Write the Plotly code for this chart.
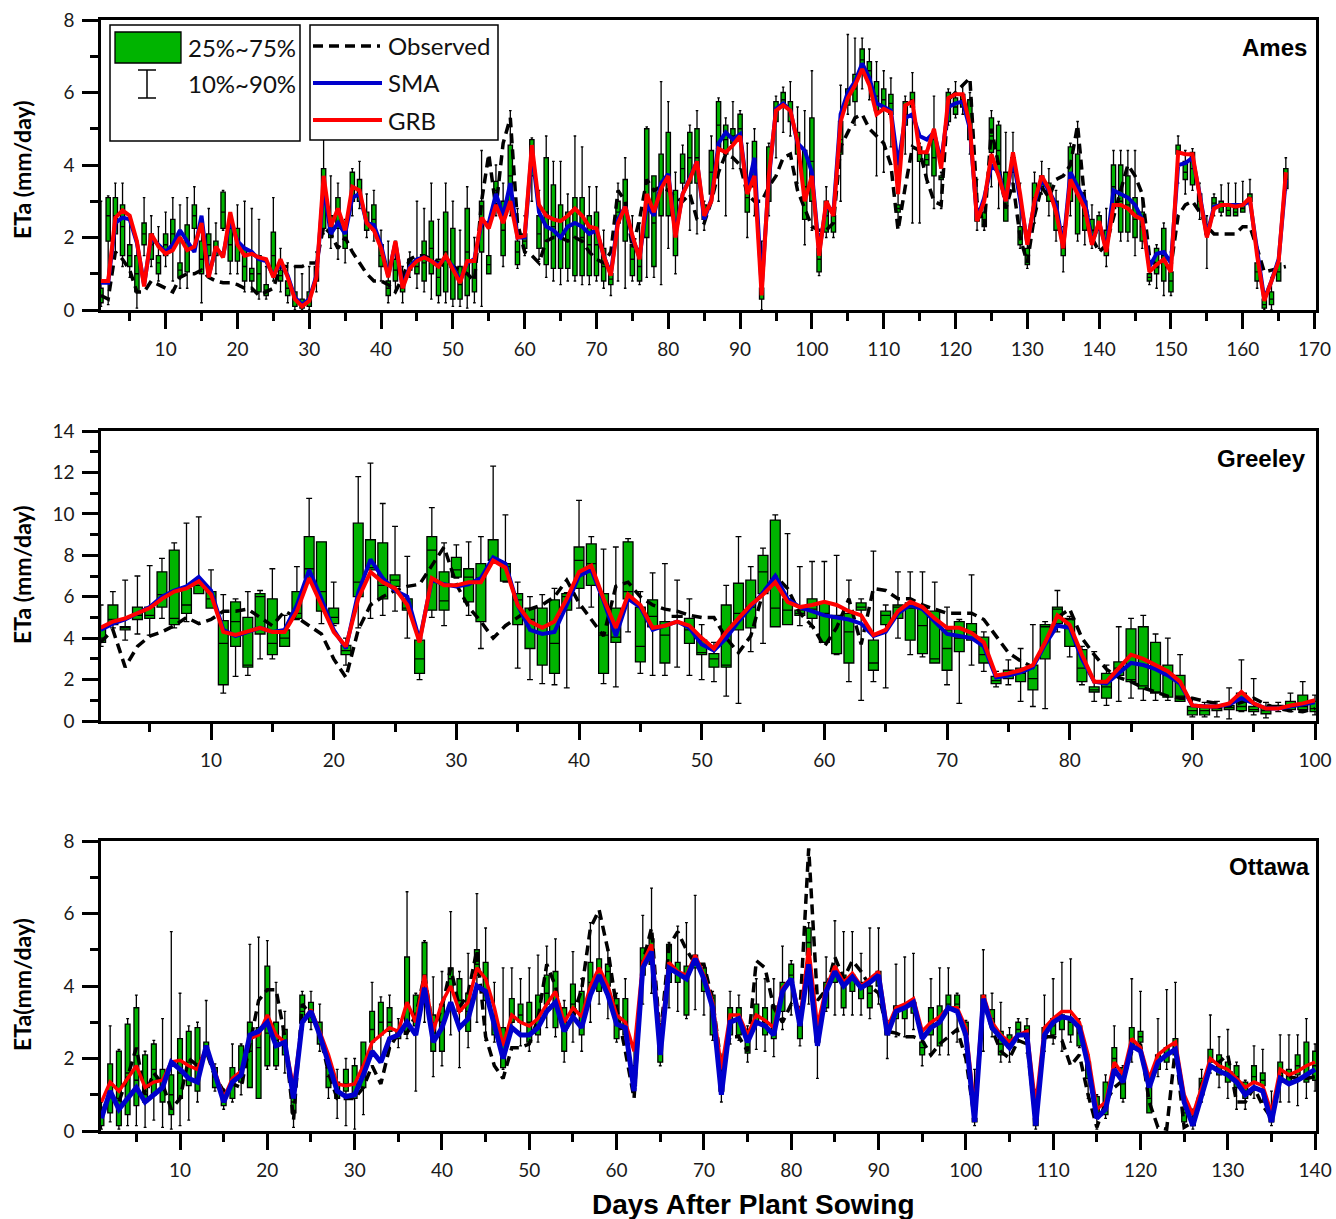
import plotly.graph_objects as go

W, H = 1336, 1219

# ======================= AMES (days 1..166) =======================
ames_days = list(range(1, 167))
ames_grb = [0.8, 0.8, 2.55, 2.75, 2.6, 1.9, 0.65, 2.1, 1.75, 1.55,
            1.65, 2.0, 1.65, 1.75, 2.4, 0.9, 1.75, 1.45, 2.7, 1.8,
            1.5, 1.55, 1.45, 1.4, 0.9, 1.4, 0.9, 0.3, 0.1, 0.25,
            0.9, 3.7, 2.3, 2.8, 2.2, 3.4, 3.3, 2.4, 2.2, 1.7,
            0.9, 1.9, 0.6, 1.15, 1.35, 1.45, 1.35, 1.2, 1.5, 1.15,
            0.75, 1.35, 1.35, 2.55, 2.25, 2.9, 2.4, 3.0, 2.0, 2.05,
            4.55, 2.9, 2.6, 2.5, 2.45, 2.6, 2.8, 2.6, 2.3, 2.25,
            1.5, 0.95, 2.4, 2.85, 2.05, 1.4, 3.2, 2.7, 3.35, 3.7,
            2.0, 3.2, 3.6, 4.1, 2.6, 3.0, 4.45, 4.35, 4.55, 4.8,
            3.2, 3.7, 0.4, 3.7, 5.5, 5.65, 5.5, 4.65, 3.0, 3.7,
            1.5, 3.0, 2.6, 5.2, 5.85, 6.2, 6.65, 6.2, 5.4, 5.55,
            5.45, 3.2, 5.65, 5.75, 4.35, 4.35, 5.0, 3.9, 5.85, 5.95,
            5.95, 5.1, 2.45, 3.0, 4.3, 3.7, 3.0, 4.35, 3.2, 1.8,
            3.0, 3.7, 3.35, 2.7, 1.7, 3.6, 3.2, 2.8, 1.8, 2.45,
            1.6, 2.9, 2.9, 2.8, 2.6, 2.5, 1.05, 1.25, 1.4, 1.05,
            4.35, 4.3, 4.3, 3.2, 2.0, 2.8, 2.9, 2.9, 2.85, 2.9,
            3.1, 1.5, 0.25, 0.8, 1.35, 3.8]
ames_sma = [0.75, 0.75, 2.4, 2.55, 2.5, 1.85, 0.7, 2.0, 1.8, 1.6,
            1.8, 2.2, 1.9, 1.6, 2.6, 0.95, 1.7, 1.5, 2.5, 1.9,
            1.7, 1.6, 1.4, 1.35, 0.95, 1.3, 0.95, 0.35, 0.15, 0.3,
            0.95, 3.4, 2.1, 2.4, 2.1, 3.1, 3.2, 2.4, 2.35, 1.8,
            0.95, 1.85, 0.65, 1.2, 1.4, 1.45, 1.35, 1.25, 1.45, 1.2,
            0.8, 1.3, 1.4, 2.4, 2.4, 3.2, 2.6, 3.5, 2.0, 2.0,
            4.4, 2.7, 2.3, 2.2, 2.0, 2.3, 2.4, 2.3, 2.1, 2.2,
            1.5, 1.0, 2.5, 2.85, 2.0, 1.45, 2.9, 2.6, 3.5, 3.75,
            2.1, 3.2, 3.65, 4.1, 2.5, 3.05, 4.6, 4.9, 4.7, 4.85,
            3.3, 4.2, 0.6, 3.6, 5.55, 5.7, 5.5, 4.6, 4.4, 3.8,
            1.6, 2.9, 2.7, 5.4, 6.0, 6.3, 6.8, 6.4, 5.7, 5.6,
            5.5, 4.0, 5.3, 5.4, 4.8, 4.7, 4.9, 4.1, 5.6, 5.7,
            5.75, 5.0, 2.5, 3.1, 4.0, 3.8, 3.0, 4.2, 3.1, 1.85,
            2.95, 3.6, 3.3, 2.9, 1.75, 3.8, 3.4, 3.0, 1.85, 2.4,
            1.7, 3.3, 3.2, 3.1, 2.9, 2.5, 1.2, 1.55, 1.6, 1.3,
            4.0, 4.05, 4.2, 3.2, 2.05, 2.85, 2.9, 2.9, 2.9, 2.9,
            3.0, 1.55, 0.3, 0.8, 1.4, 3.6]
ames_obs = [0.4, 0.3, 1.6, 1.4, 1.1, 0.5, 0.5, 0.8, 0.7, 0.6,
            0.5, 0.9, 1.0, 1.0, 1.1, 0.9, 0.8, 0.75, 0.75, 0.7,
            0.6, 0.6, 0.4, 0.5, 0.6, 1.2, 1.2, 1.2, 1.2, 1.3,
            1.3, 2.3, 2.1, 1.7, 2.0, 1.6, 1.3, 1.0, 0.8, 0.8,
            0.7, 0.5, 0.9, 1.4, 1.5, 1.5, 1.4, 1.3, 1.2, 1.2,
            1.1, 1.0, 0.8, 3.0, 4.3, 2.8, 4.6, 5.3, 2.4, 1.6,
            1.5, 1.3, 1.9, 2.0, 2.0, 1.9, 2.0, 1.9, 1.6, 1.4,
            1.3, 1.6, 3.3, 3.0, 1.7, 2.5, 3.6, 3.3, 3.4, 3.3,
            3.1, 3.0, 3.2, 2.5, 2.4, 3.0, 3.8, 4.3, 4.2, 4.0,
            3.2, 3.0, 3.0, 3.4, 3.7, 4.2, 4.3, 3.3, 2.8, 2.3,
            2.2, 2.2, 2.4, 4.5, 4.9, 5.3, 5.4, 5.0, 4.8, 4.6,
            4.0, 2.2, 3.4, 4.5, 4.4, 3.6, 3.0, 2.9, 5.8, 6.0,
            6.2, 6.4, 3.0, 2.3, 5.0, 4.0, 2.8, 3.5, 2.0, 1.3,
            2.6, 3.4, 3.1, 3.6, 3.7, 4.0, 5.1, 3.0, 2.0, 1.6,
            1.8, 2.6, 3.3, 4.0, 3.7, 3.2, 1.5, 1.2, 1.2, 1.2,
            2.6, 2.9, 3.0, 2.7, 2.3, 2.1, 2.1, 2.1, 2.1, 2.3,
            2.3, 1.7, 1.05, 1.1, 1.15, 1.2]
ames_q1 = [0.2, 1.9, 2.1, 1.5, 1.2, 0.5, 1.8, 1.4, 1.0, 1.5,
           1.7, 0.9, 1.05, 2.25, 1.0, 1.5, 1.5, 2.25, 1.35, 1.35,
           0.8, 0.8, 0.5, 0.4, 1.0, 0.8, 0.4, 0.1, 0.05, 0.1,
           0.8, 2.25, 2.0, 2.25, 1.7, 3.0, 3.0, 2.2, 2.2, 1.2,
           0.4, 0.8, 0.5, 1.1, 1.0, 0.8, 1.0, 0.4, 0.5, 0.3,
           0.3, 0.4, 0.5, 1.6, 1.0, 3.0, 1.5, 2.9, 1.25, 1.7,
           3.7, 1.7, 1.25, 1.15, 1.15, 1.15, 0.95, 0.95, 0.95, 0.95,
           0.8, 0.7, 2.4, 1.9, 0.95, 0.8, 2.0, 1.2, 2.6, 2.6,
           1.5, 3.5, 3.5, 3.5, 2.5, 3.2, 4.45, 4.3, 4.6, 4.65,
           2.7, 3.4, 0.3, 3.0, 5.2, 5.65, 5.2, 4.3, 2.5, 3.0,
           1.05, 2.15, 2.15, 4.3, 5.65, 5.75, 6.6, 6.3, 5.5, 5.55,
           5.4, 2.7, 5.1, 5.6, 4.1, 4.0, 3.7, 3.6, 5.2, 5.4,
           5.6, 4.7, 2.45, 2.3, 4.35, 3.8, 2.45, 3.8, 1.8, 1.25,
           2.8, 3.4, 3.0, 2.2, 1.5, 3.0, 2.1, 2.2, 1.9, 2.2,
           1.5, 2.8, 2.15, 2.15, 2.0, 1.9, 0.8, 1.0, 0.8, 0.5,
           4.3, 3.6, 3.45, 2.8, 2.1, 2.8, 2.7, 2.6, 2.6, 2.7,
           3.0, 0.8, 0.05, 0.15, 0.8, 3.35]
ames_med = [0.4, 2.6, 2.6, 2.3, 1.5, 1.0, 2.1, 1.8, 1.3, 1.8,
            2.1, 1.1, 1.7, 2.6, 1.4, 1.8, 1.7, 2.7, 1.8, 1.8,
            1.2, 1.0, 1.0, 0.55, 1.5, 0.95, 0.6, 0.3, 0.15, 0.3,
            1.0, 3.0, 2.3, 2.7, 2.0, 3.4, 3.3, 2.45, 2.5, 1.5,
            0.6, 1.1, 0.6, 1.25, 1.2, 1.3, 1.7, 0.9, 1.6, 1.2,
            0.7, 1.6, 0.9, 2.3, 1.25, 3.3, 2.2, 3.7, 1.6, 1.9,
            4.2, 2.1, 2.7, 2.3, 2.0, 1.9, 2.0, 2.0, 1.8, 1.8,
            1.2, 0.85, 2.7, 2.7, 1.4, 1.2, 3.5, 2.4, 3.4, 3.7,
            2.4, 3.9, 4.2, 4.2, 2.7, 3.8, 5.1, 4.7, 4.8, 5.0,
            3.1, 4.0, 0.45, 3.7, 5.5, 5.8, 5.5, 4.6, 3.4, 4.1,
            1.4, 2.6, 2.4, 4.7, 5.9, 6.1, 6.9, 6.6, 5.9, 5.8,
            5.7, 2.8, 5.4, 5.8, 4.3, 4.15, 4.2, 3.65, 5.6, 5.6,
            5.8, 5.2, 2.6, 2.5, 4.8, 4.4, 3.1, 4.0, 2.0, 1.5,
            3.1, 3.55, 3.2, 2.6, 1.7, 3.7, 3.2, 2.6, 2.2, 2.4,
            1.8, 3.4, 3.0, 2.9, 2.5, 2.3, 0.9, 1.3, 1.5, 0.8,
            4.4, 3.8, 3.9, 3.0, 2.2, 2.95, 2.85, 2.75, 2.7, 2.8,
            3.1, 1.05, 0.15, 0.3, 1.05, 3.6]
ames_q3 = [0.6, 3.1, 3.1, 2.9, 1.8, 1.5, 2.4, 2.1, 1.5, 2.1,
           2.5, 1.3, 2.35, 2.9, 1.9, 2.1, 1.9, 3.25, 2.25, 2.25,
           1.7, 1.15, 1.5, 0.7, 2.15, 1.1, 0.8, 0.5, 0.3, 0.5,
           1.2, 3.9, 2.6, 3.1, 2.2, 3.8, 3.6, 2.7, 2.9, 1.8,
           0.8, 1.4, 0.7, 1.4, 1.4, 1.9, 2.45, 1.4, 2.7, 2.25,
           1.2, 2.8, 1.4, 3.0, 1.5, 3.55, 3.0, 4.55, 1.9, 2.1,
           4.7, 2.6, 4.2, 3.45, 2.9, 2.7, 3.1, 3.1, 2.6, 2.7,
           1.7, 1.0, 3.0, 3.6, 1.8, 1.7, 5.0, 3.7, 4.3, 4.9,
           3.3, 4.3, 4.9, 5.0, 2.9, 4.4, 5.75, 5.1, 5.0, 5.4,
           3.5, 4.65, 0.6, 4.5, 5.75, 6.0, 5.75, 4.9, 4.4, 5.3,
           1.7, 3.0, 2.6, 5.2, 6.1, 6.5, 7.2, 6.85, 6.3, 6.1,
           5.95, 2.9, 5.75, 6.0, 4.5, 4.3, 4.7, 3.7, 6.0, 5.85,
           5.95, 5.8, 2.8, 2.7, 5.3, 5.1, 3.8, 4.2, 2.3, 1.7,
           3.5, 3.7, 3.5, 3.0, 1.9, 4.5, 4.3, 3.0, 2.5, 2.6,
           2.2, 4.0, 4.0, 3.7, 3.1, 2.7, 1.0, 1.7, 2.25, 1.05,
           4.55, 4.1, 4.35, 3.2, 2.3, 3.1, 3.0, 2.9, 2.8, 2.85,
           3.2, 1.3, 0.3, 0.5, 1.3, 3.9]
ames_lo = [0.1, 0.15, 1.6, 1.2, 0.9, 0.05, 1.5, 1.2, 0.8, 1.2,
           0.8, 0.6, 0.6, 1.7, 0.2, 1.2, 1.0, 2.2, 1.0, 1.0,
           0.5, 0.5, 0.3, 0.3, 0.8, 0.5, 0.2, 0.0, 0.0, 0.0,
           0.5, 2.1, 1.7, 1.4, 1.3, 2.6, 2.8, 2.0, 1.9, 0.8,
           0.2, 0.5, 0.2, 0.9, 0.6, 0.5, 0.3, 0.2, 0.2, 0.1,
           0.1, 0.05, 0.2, 0.1, 1.0, 2.6, 1.2, 2.6, 1.15, 1.5,
           3.0, 1.4, 0.9, 0.8, 0.7, 0.8, 0.8, 0.7, 0.7, 0.8,
           0.6, 0.4, 0.8, 0.6, 0.8, 0.7, 0.9, 0.9, 0.7, 1.7,
           1.0, 3.0, 2.2, 2.1, 2.2, 3.0, 3.0, 2.6, 3.9, 3.9,
           2.0, 2.6, 0.0, 2.6, 4.2, 4.9, 4.8, 3.5, 1.8, 2.2,
           0.95, 2.0, 2.0, 3.0, 5.4, 5.1, 6.1, 5.8, 3.7, 3.8,
           4.5, 2.4, 4.3, 2.4, 2.4, 3.5, 2.8, 2.8, 5.1, 5.3,
           5.4, 4.3, 2.2, 2.2, 3.4, 2.8, 2.45, 3.5, 1.7, 1.15,
           2.4, 3.2, 2.6, 1.9, 1.05, 2.6, 1.9, 1.8, 1.7, 1.7,
           1.2, 2.6, 1.9, 1.9, 1.5, 1.7, 0.7, 0.6, 0.4, 0.4,
           3.5, 3.2, 3.3, 2.5, 1.15, 2.6, 2.6, 2.6, 2.6, 2.7,
           2.9, 0.6, 0.0, 0.0, 0.8, 3.3]
ames_hi = [3.0, 3.15, 3.5, 3.5, 2.6, 1.9, 3.1, 2.6, 2.3, 2.7,
           3.1, 2.9, 3.1, 3.4, 2.4, 2.8, 2.4, 3.3, 2.6, 2.9,
           3.0, 2.8, 2.5, 1.2, 3.1, 1.7, 1.3, 1.2, 1.0, 1.2,
           1.6, 5.2, 3.7, 3.5, 2.5, 3.9, 4.1, 3.2, 3.3, 2.2,
           1.9, 1.9, 1.2, 1.6, 3.0, 2.8, 3.5, 2.5, 3.5, 3.0,
           2.2, 3.4, 2.0, 4.4, 2.3, 4.0, 3.5, 5.5, 2.8, 2.6,
           4.75, 3.3, 4.8, 4.1, 4.1, 3.2, 4.8, 4.5, 3.4, 3.4,
           2.2, 1.15, 3.5, 4.2, 2.6, 2.4, 5.05, 3.7, 6.3, 5.75,
           3.8, 4.55, 5.1, 5.5, 3.0, 4.8, 5.85, 5.3, 5.75, 5.5,
           4.6, 5.0, 1.9, 4.6, 5.9, 6.15, 6.3, 5.6, 5.5, 6.6,
           2.1, 3.4, 2.8, 6.2, 7.6, 7.5, 7.5, 7.2, 6.85, 6.6,
           6.4, 4.2, 5.9, 6.55, 4.6, 4.4, 5.9, 3.8, 6.1, 6.3,
           6.2, 6.0, 3.6, 3.0, 5.5, 5.2, 4.9, 4.9, 3.5, 1.9,
           3.8, 4.1, 3.9, 3.3, 2.3, 4.6, 5.2, 3.3, 2.9, 2.7,
           2.8, 4.4, 4.4, 4.4, 4.4, 3.1, 1.15, 1.8, 2.4, 1.6,
           4.8, 4.4, 4.45, 3.5, 2.6, 3.2, 3.45, 3.5, 3.5, 3.55,
           3.6, 1.5, 0.5, 0.9, 1.5, 4.2]

# ======================= GREELEY (days 1..100) =======================
gre_days = list(range(1, 101))
gre_grb = [4.5, 4.8, 4.95, 5.2, 5.45, 5.9, 6.25, 6.4, 6.75, 6.1,
           4.3, 4.15, 4.3, 4.5, 4.3, 4.3, 5.3, 6.9, 5.6, 4.3,
           3.6, 5.9, 7.2, 6.7, 6.4, 5.6, 3.8, 6.9, 6.55, 6.55,
           6.7, 6.7, 7.75, 7.4, 5.6, 4.8, 4.5, 4.8, 5.9, 7.2,
           7.5, 5.9, 4.5, 6.1, 5.6, 4.5, 4.6, 4.8, 4.6, 4.0,
           3.5, 4.3, 4.95, 5.6, 6.1, 6.7, 5.75, 5.5, 5.6, 5.75,
           5.6, 5.3, 5.1, 4.15, 4.4, 5.3, 5.75, 5.5, 4.95, 4.5,
           4.5, 4.25, 3.8, 2.2, 2.3, 2.45, 2.7, 3.8, 5.1, 4.65,
           3.2, 1.9, 1.9, 2.55, 3.2, 3.0, 2.7, 2.4, 1.9, 0.75,
           0.7, 0.7, 0.85, 1.4, 0.85, 0.6, 0.6, 0.75, 0.85, 1.0]
gre_sma = [4.4, 4.7, 4.9, 5.2, 5.5, 6.0, 6.3, 6.5, 6.95, 6.3,
           4.4, 4.1, 4.3, 4.5, 4.3, 4.4, 5.6, 7.3, 5.9, 4.4,
           3.5, 6.2, 7.8, 6.9, 6.3, 6.0, 3.9, 6.8, 6.6, 6.5,
           6.6, 6.9, 7.9, 7.6, 5.6, 4.4, 4.2, 4.3, 5.6, 7.0,
           7.3, 5.8, 4.1, 5.9, 5.5, 4.4, 4.6, 4.8, 4.5, 3.7,
           3.4, 4.0, 4.8, 5.5, 6.2, 7.0, 5.9, 5.5, 5.3, 5.1,
           5.0, 4.9, 4.7, 4.1, 4.3, 5.2, 5.6, 5.4, 4.8, 4.2,
           4.1, 4.0, 3.6, 2.1, 2.2, 2.35, 2.6, 3.7, 4.6, 4.5,
           3.0, 1.9, 1.8, 2.3, 2.8, 2.7, 2.5, 2.2, 1.8, 0.75,
           0.7, 0.7, 0.8, 1.1, 0.85, 0.6, 0.6, 0.7, 0.8, 0.9]
gre_obs = [3.8, 4.4, 2.6, 3.6, 4.1, 4.3, 4.6, 5.0, 4.7, 4.9,
           5.3, 5.3, 5.4, 5.0, 4.6, 5.3, 5.0, 4.6, 4.2, 3.0,
           2.1, 4.4, 5.6, 6.0, 6.3, 6.5, 6.6, 7.5, 8.4, 6.6,
           5.5, 4.8, 4.0, 4.6, 5.0, 5.4, 5.6, 6.0, 6.8, 5.7,
           4.9, 4.1, 6.5, 6.7, 6.0, 5.6, 5.4, 5.3, 5.1, 5.0,
           5.0, 4.0, 3.3, 4.1, 6.2, 7.0, 6.4, 5.2, 4.6, 3.6,
           4.5, 5.9, 3.7, 6.4, 6.3, 5.9, 5.9, 5.6, 5.4, 5.2,
           5.2, 5.2, 4.9, 4.1, 3.3, 2.9, 2.6, 3.8, 5.0, 5.4,
           4.0, 3.2, 2.5, 2.1, 1.9, 1.6, 1.4, 1.2, 1.1, 1.1,
           0.95, 0.85, 0.7, 0.9, 1.1, 0.8, 0.6, 0.5, 0.45, 0.6]
gre_q1 = [3.8, 4.65, 4.4, 4.9, 4.95, 5.5, 4.65, 5.2, 6.15, 5.45,
          1.75, 3.6, 2.6, 4.2, 3.2, 3.6, 4.95, 6.9, 5.3, 4.7,
          3.2, 6.0, 7.3, 5.9, 6.5, 5.35, 2.3, 5.35, 5.35, 6.95,
          5.75, 4.8, 7.75, 6.75, 4.65, 3.5, 2.7, 2.3, 5.35, 6.4,
          6.55, 2.3, 3.8, 5.9, 2.85, 4.55, 2.8, 5.0, 3.75, 3.2,
          2.6, 2.6, 4.4, 4.5, 6.15, 4.55, 4.65, 5.1, 4.95, 3.8,
          3.25, 2.8, 5.35, 2.45, 4.65, 4.95, 3.9, 3.25, 2.8, 2.45,
          3.35, 3.9, 2.8, 1.8, 2.05, 1.9, 1.5, 3.0, 4.7, 3.6,
          1.9, 1.4, 1.1, 2.2, 1.9, 1.55, 1.35, 1.15, 0.95, 0.3,
          0.3, 0.5, 0.55, 0.5, 0.45, 0.35, 0.6, 0.55, 0.55, 0.45]
gre_med = [4.0, 4.9, 4.5, 5.1, 5.1, 6.1, 4.95, 5.6, 6.55, 5.9,
           3.75, 4.8, 2.7, 6.0, 3.75, 4.0, 5.2, 7.35, 6.25, 5.0,
           3.4, 6.7, 7.4, 6.55, 6.8, 5.45, 3.0, 8.25, 5.8, 7.3,
           6.95, 6.9, 7.8, 7.45, 5.85, 4.9, 4.25, 3.75, 6.0, 7.75,
           7.6, 4.15, 4.05, 6.25, 3.6, 5.05, 4.15, 5.05, 4.4, 3.3,
           3.0, 2.7, 5.2, 5.5, 7.2, 5.45, 5.35, 5.2, 5.4, 5.2,
           4.95, 4.3, 5.5, 2.8, 5.1, 5.5, 5.45, 4.6, 3.0, 3.5,
           4.0, 4.3, 3.2, 1.95, 2.25, 2.3, 2.05, 4.55, 5.4, 4.9,
           2.55, 1.5, 1.65, 2.55, 2.0, 1.7, 1.4, 2.2, 1.2, 0.5,
           0.5, 0.6, 0.65, 0.7, 0.55, 0.5, 0.65, 0.7, 0.7, 0.6]
gre_q3 = [4.5, 5.6, 4.55, 5.5, 5.5, 7.2, 8.25, 6.4, 6.7, 6.25,
          4.85, 5.75, 5.0, 6.15, 5.9, 4.4, 6.25, 8.9, 8.65, 5.45,
          3.65, 9.55, 8.75, 8.6, 7.05, 5.9, 3.9, 8.9, 7.2, 7.9,
          7.35, 7.6, 8.75, 7.6, 6.15, 5.45, 5.45, 5.85, 6.15, 8.4,
          8.55, 6.15, 5.45, 8.65, 5.5, 5.85, 4.8, 5.1, 4.95, 3.9,
          3.25, 5.6, 6.65, 6.8, 8.0, 9.7, 5.9, 5.35, 5.9, 5.7,
          5.1, 5.2, 5.7, 3.9, 5.3, 5.6, 5.7, 5.5, 5.3, 4.4,
          4.8, 4.7, 4.05, 2.15, 2.45, 2.55, 2.7, 4.65, 5.5, 4.95,
          3.45, 1.65, 2.3, 2.85, 4.45, 4.55, 3.8, 2.7, 2.2, 0.7,
          0.75, 0.7, 0.75, 1.35, 0.7, 0.7, 0.75, 0.95, 1.25, 0.95]
gre_lo = [3.6, 4.5, 3.9, 4.2, 4.15, 4.95, 4.5, 4.8, 6.15, 5.45,
          1.35, 2.15, 2.2, 3.0, 3.0, 3.6, 4.9, 6.9, 4.7, 4.6,
          2.7, 4.5, 4.95, 5.1, 5.3, 4.0, 2.0, 5.0, 4.6, 6.9,
          5.1, 3.5, 7.7, 6.7, 2.55, 2.0, 1.8, 1.75, 1.6, 5.45,
          5.5, 1.8, 1.65, 4.3, 2.3, 2.2, 2.2, 2.6, 2.2, 2.0,
          1.9, 1.2, 0.85, 3.35, 3.75, 4.55, 4.65, 4.6, 4.55, 3.8,
          3.2, 1.9, 1.0, 1.9, 1.6, 4.0, 3.2, 3.1, 2.8, 1.75,
          0.85, 2.7, 2.4, 1.65, 1.75, 0.95, 0.7, 0.6, 4.3, 3.1,
          1.75, 0.95, 0.75, 0.95, 1.1, 1.0, 1.0, 1.0, 0.95, 0.2,
          0.2, 0.2, 0.1, 0.45, 0.3, 0.15, 0.45, 0.45, 0.45, 0.3]
gre_hi = [5.6, 6.25, 6.8, 7.0, 7.5, 7.85, 8.6, 9.55, 9.85, 7.3,
          6.1, 5.9, 6.25, 6.3, 7.35, 5.1, 7.45, 10.75, 8.65, 6.7,
          4.0, 11.8, 12.45, 10.5, 9.4, 7.95, 4.0, 10.3, 8.6, 8.5,
          8.65, 8.9, 12.3, 9.95, 6.7, 6.0, 6.1, 6.4, 6.2, 10.65,
          8.9, 8.3, 8.4, 8.8, 6.25, 7.15, 7.6, 6.8, 5.9, 4.65,
          3.8, 6.55, 8.9, 7.45, 8.35, 9.95, 9.05, 7.45, 7.7, 7.7,
          8.0, 6.8, 5.9, 8.2, 5.6, 7.2, 7.2, 7.2, 6.7, 5.5,
          4.9, 7.05, 4.3, 2.4, 2.95, 3.5, 4.65, 4.8, 6.3, 5.05,
          3.6, 3.35, 2.7, 4.55, 4.95, 5.1, 4.2, 4.0, 3.2, 1.1,
          0.9, 0.95, 1.6, 2.95, 2.05, 0.9, 0.9, 1.35, 1.9, 1.25]

# ======================= OTTAWA (days 1..140) =======================
ott_days = list(range(1, 141))
ott_grb = [0.8, 1.35, 1.1, 1.45, 1.8, 1.2, 1.35, 1.4, 1.9, 1.95,
           1.8, 1.7, 2.3, 1.65, 0.9, 1.45, 1.65, 2.55, 2.65, 3.2,
           2.65, 2.45, 1.2, 3.0, 3.35, 2.75, 2.1, 1.3, 1.25, 1.3,
           1.8, 2.45, 2.65, 2.85, 2.75, 3.55, 3.0, 4.3, 2.75, 3.55,
           4.0, 3.3, 3.55, 4.5, 4.2, 3.4, 2.35, 3.2, 3.0, 2.9,
           3.1, 3.5, 3.85, 3.0, 3.4, 3.15, 4.0, 4.5, 4.0, 3.2,
           3.0, 2.2, 4.65, 5.15, 2.35, 4.65, 4.4, 4.3, 4.85, 4.3,
           3.55, 1.7, 3.2, 3.2, 2.65, 3.2, 3.05, 2.85, 3.95, 4.2,
           3.1, 5.05, 2.9, 3.95, 4.55, 4.1, 4.35, 4.0, 4.2, 4.4,
           2.85, 3.4, 3.5, 3.65, 2.75, 3.0, 3.15, 3.4, 3.4, 2.85,
           0.6, 3.75, 3.0, 2.65, 2.45, 2.65, 2.75, 0.7, 2.85, 3.1,
           3.3, 3.3, 3.0, 2.1, 0.6, 0.8, 1.9, 1.55, 2.55, 2.3,
           1.45, 2.1, 2.3, 2.45, 1.0, 0.45, 1.2, 2.0, 1.8, 1.7,
           1.45, 1.2, 1.35, 1.25, 0.5, 1.7, 1.55, 1.65, 1.8, 1.9]
ott_sma = [0.35, 1.1, 0.6, 0.9, 1.2, 0.8, 1.0, 1.2, 1.9, 1.7,
           1.45, 1.35, 2.35, 1.55, 0.8, 1.35, 1.55, 2.65, 2.75, 3.0,
           2.35, 2.45, 0.9, 3.0, 3.3, 2.65, 1.9, 1.1, 0.95, 1.0,
           1.55, 2.2, 1.9, 2.55, 2.65, 3.0, 2.65, 3.95, 2.45, 2.85,
           3.55, 2.85, 3.1, 4.0, 3.85, 2.9, 2.0, 2.85, 2.65, 2.65,
           2.85, 3.3, 3.55, 2.75, 3.15, 2.85, 3.75, 4.3, 3.75, 2.95,
           2.85, 1.1, 4.5, 4.95, 2.1, 4.5, 4.35, 4.2, 4.75, 4.2,
           3.4, 1.0, 3.0, 3.1, 2.45, 3.0, 2.9, 2.65, 3.85, 4.2,
           2.9, 4.6, 2.35, 3.85, 4.4, 4.0, 4.25, 3.95, 4.1, 4.3,
           2.65, 3.3, 3.4, 3.55, 2.55, 2.85, 3.0, 3.4, 3.3, 2.65,
           0.25, 3.65, 2.85, 2.55, 2.3, 2.65, 2.65, 0.15, 2.65, 3.0,
           3.15, 3.1, 2.85, 1.8, 0.35, 0.6, 1.7, 1.35, 2.35, 2.2,
           1.2, 1.9, 2.1, 2.25, 0.8, 0.15, 1.0, 1.8, 1.65, 1.55,
           1.35, 1.0, 1.2, 1.1, 0.25, 1.45, 1.3, 1.4, 1.55, 1.7]
ott_obs = [0.5, 1.0, 0.8, 1.5, 2.3, 1.0, 1.6, 1.3, 0.6, 0.9,
           2.0, 1.8, 2.2, 1.5, 1.1, 1.3, 1.2, 2.4, 3.6, 3.9,
           3.9, 2.6, 0.3, 3.5, 3.2, 2.7, 1.6, 0.9, 0.9, 0.9,
           1.2, 1.8, 1.3, 2.3, 2.7, 2.7, 3.2, 4.3, 2.8, 3.4,
           4.5, 3.4, 3.8, 5.0, 2.6, 1.8, 1.45, 2.3, 2.3, 2.4,
           3.1, 4.6, 4.0, 2.7, 3.2, 3.9, 5.6, 6.1, 5.0, 3.4,
           2.2, 0.9, 4.65, 5.6, 2.55, 5.1, 5.5, 5.0, 4.6, 4.6,
           3.6, 1.8, 2.6, 2.6, 2.2, 4.7, 4.5, 3.4, 3.0, 3.5,
           3.3, 7.8, 3.6, 3.9, 4.8, 4.2, 4.7, 4.4, 4.0, 3.8,
           2.75, 2.7, 2.6, 2.6, 2.5, 2.1, 2.4, 2.6, 2.8, 2.0,
           0.3, 3.6, 2.8, 2.2, 2.0, 2.5, 2.4, 0.25, 2.6, 2.6,
           2.5, 1.8, 2.1, 1.0, 0.1, 0.8, 1.2, 1.4, 2.2, 2.4,
           0.8, 0.1, 0.05, 2.3, 0.1, 0.25, 1.3, 1.8, 1.9, 2.1,
           0.8, 0.8, 1.2, 0.7, 0.35, 1.5, 1.5, 1.45, 1.45, 1.5]
ott_q1 = [0.15, 0.5, 0.15, 0.45, 0.7, 0.8, 1.0, 0.8, 0.45, 0.9,
          1.25, 1.1, 2.3, 1.2, 0.7, 0.9, 1.35, 1.2, 0.9, 1.8,
          1.8, 2.1, 0.5, 3.0, 3.0, 2.4, 1.2, 0.9, 1.1, 0.9,
          1.2, 2.45, 2.65, 2.75, 2.55, 2.75, 2.9, 4.1, 2.2, 2.2,
          3.9, 3.3, 2.75, 4.3, 3.6, 2.65, 1.75, 3.0, 3.0, 2.45,
          2.65, 3.5, 2.85, 2.2, 3.2, 2.65, 3.85, 3.85, 4.0, 2.55,
          2.65, 1.25, 4.3, 4.6, 1.9, 4.1, 4.1, 3.2, 4.5, 3.85,
          2.65, 1.1, 2.65, 2.65, 2.15, 3.0, 2.65, 2.55, 3.3, 4.1,
          2.55, 4.85, 2.45, 3.4, 4.1, 3.4, 3.85, 3.65, 3.4, 4.0,
          2.65, 3.1, 3.1, 3.25, 2.1, 2.65, 2.35, 3.4, 3.4, 2.65,
          0.25, 3.3, 2.9, 2.1, 2.3, 2.65, 2.55, 0.15, 2.55, 2.65,
          2.8, 2.65, 2.35, 1.45, 0.5, 0.45, 1.75, 0.9, 2.3, 2.45,
          0.5, 1.7, 1.9, 2.1, 0.25, 0.15, 1.0, 1.9, 1.55, 1.35,
          1.2, 0.9, 1.35, 1.25, 0.25, 1.35, 1.35, 1.55, 1.35, 1.4]
ott_med = [0.4, 1.0, 0.9, 1.6, 1.4, 1.1, 1.7, 1.2, 1.0, 1.6,
           1.9, 1.8, 2.35, 1.5, 0.8, 1.3, 1.7, 2.2, 2.3, 2.7,
           2.5, 2.5, 0.8, 3.3, 3.3, 2.7, 1.5, 1.1, 1.3, 1.3,
           1.8, 2.8, 3.0, 3.0, 2.65, 3.5, 3.2, 4.3, 2.7, 3.0,
           4.2, 3.6, 3.3, 4.6, 4.2, 2.9, 2.2, 3.2, 3.2, 3.0,
           3.1, 3.8, 3.8, 2.9, 3.5, 3.2, 4.1, 4.4, 4.4, 3.2,
           3.0, 1.5, 4.6, 5.0, 2.2, 4.6, 4.4, 4.3, 4.7, 4.2,
           3.3, 1.15, 3.0, 3.1, 2.5, 3.2, 3.0, 2.9, 3.9, 4.3,
           2.9, 5.2, 2.7, 3.9, 4.4, 4.0, 4.2, 4.0, 3.8, 4.2,
           2.8, 3.3, 3.4, 3.5, 2.3, 3.0, 3.0, 3.5, 3.5, 2.8,
           0.3, 3.6, 3.1, 2.4, 2.5, 2.8, 2.8, 0.25, 2.7, 2.9,
           3.1, 3.0, 2.7, 1.8, 0.6, 0.8, 2.0, 1.3, 2.5, 2.6,
           0.9, 1.9, 2.1, 2.3, 0.5, 0.25, 1.2, 2.0, 1.8, 1.6,
           1.5, 1.1, 1.5, 1.4, 0.4, 1.6, 1.5, 1.8, 1.8, 1.8]
ott_q3 = [0.6, 1.85, 2.2, 2.95, 3.4, 2.1, 2.4, 1.7, 1.55, 2.55,
          2.75, 2.85, 2.45, 1.75, 0.9, 1.75, 2.35, 3.0, 2.85, 4.55,
          3.0, 2.8, 1.0, 3.75, 3.55, 3.0, 1.75, 1.35, 1.7, 1.8,
          2.45, 3.3, 3.55, 3.4, 2.75, 4.8, 3.75, 5.2, 3.2, 3.5,
          4.5, 4.2, 3.8, 5.0, 4.65, 3.15, 2.85, 3.65, 3.5, 3.55,
          3.75, 4.3, 4.4, 3.4, 4.05, 3.85, 4.65, 4.75, 4.6, 3.65,
          3.65, 1.8, 5.05, 5.3, 2.55, 5.15, 4.65, 4.55, 4.85, 4.5,
          3.75, 1.25, 3.4, 3.4, 2.8, 3.5, 3.4, 3.45, 4.1, 4.6,
          3.0, 5.6, 2.9, 4.1, 4.5, 4.3, 4.3, 4.1, 4.0, 4.4,
          2.95, 3.45, 3.45, 3.55, 2.45, 3.4, 3.45, 3.75, 3.75, 3.0,
          0.35, 3.75, 3.35, 2.75, 2.65, 3.0, 2.9, 0.35, 2.85, 3.1,
          3.2, 3.1, 2.9, 1.9, 0.95, 1.35, 2.3, 1.75, 2.85, 2.75,
          1.25, 2.1, 2.3, 2.55, 0.6, 0.35, 1.45, 2.25, 2.1, 1.9,
          1.8, 1.35, 1.8, 1.6, 0.6, 1.9, 1.7, 2.1, 2.45, 2.2]
ott_lo = [0.05, 0.25, 0.05, 0.15, 0.15, 0.1, 0.3, 0.1, 0.05, 0.15,
          0.3, 0.8, 2.2, 1.1, 0.6, 0.8, 1.0, 1.2, 0.9, 1.7,
          1.7, 1.6, 0.1, 2.8, 2.8, 2.2, 0.9, 0.35, 0.15, 0.05,
          0.45, 2.2, 2.0, 2.3, 2.3, 2.55, 1.1, 3.0, 1.5, 1.8,
          2.65, 1.75, 2.3, 3.0, 2.5, 2.45, 1.7, 2.8, 2.35, 2.2,
          2.45, 2.85, 2.6, 1.9, 2.45, 2.2, 3.0, 3.5, 3.1, 2.45,
          2.45, 1.15, 3.5, 3.8, 1.8, 3.4, 3.3, 3.1, 3.35, 3.2,
          2.5, 0.8, 2.4, 2.5, 1.9, 2.25, 2.2, 2.05, 2.8, 3.2,
          2.35, 3.5, 1.45, 3.3, 3.2, 3.2, 3.2, 3.2, 3.1, 3.5,
          2.0, 2.6, 2.6, 2.8, 1.8, 2.1, 2.1, 2.1, 2.45, 2.25,
          0.15, 2.2, 2.6, 1.9, 1.9, 2.45, 2.15, 0.05, 2.2, 2.4,
          2.2, 2.45, 2.3, 0.9, 0.05, 0.35, 1.6, 0.8, 1.9, 2.1,
          0.5, 1.5, 1.7, 1.9, 0.15, 0.05, 0.8, 1.6, 1.2, 0.9,
          0.6, 0.6, 0.9, 0.8, 0.15, 0.8, 0.8, 0.7, 0.9, 1.1]
ott_hi = [0.8, 2.9, 2.25, 3.1, 3.75, 2.2, 2.5, 3.1, 5.5, 3.8,
          2.9, 3.0, 3.6, 1.85, 1.0, 2.4, 2.4, 5.15, 5.35, 5.25,
          4.1, 3.3, 1.1, 3.85, 3.85, 3.5, 1.9, 1.7, 2.0, 2.0,
          2.45, 4.1, 3.7, 3.75, 3.1, 6.6, 3.8, 5.25, 4.25, 4.4,
          6.05, 4.4, 4.9, 6.55, 5.6, 4.1, 4.5, 4.5, 4.2, 4.5,
          4.85, 5.1, 5.3, 3.6, 4.95, 4.2, 5.75, 5.9, 5.0, 3.8,
          4.2, 2.4, 5.95, 6.7, 2.6, 5.2, 5.65, 5.75, 6.5, 4.55,
          3.85, 1.9, 3.85, 3.75, 2.9, 4.2, 4.2, 4.2, 5.1, 4.7,
          3.2, 5.75, 3.0, 4.8, 5.8, 5.5, 5.5, 4.9, 5.6, 5.6,
          3.05, 4.6, 4.8, 4.9, 2.7, 4.2, 4.5, 4.5, 3.8, 3.05,
          1.7, 5.0, 3.8, 3.55, 2.85, 3.1, 3.1, 1.15, 3.75, 4.2,
          4.65, 4.75, 3.1, 2.1, 1.0, 1.55, 2.9, 1.8, 4.2, 3.85,
          1.35, 3.1, 3.9, 4.1, 0.8, 0.6, 1.7, 3.2, 2.6, 2.8,
          1.9, 1.4, 2.35, 2.25, 1.1, 2.65, 2.65, 2.65, 3.1, 2.4]

# ======================= styling =======================
GREEN = '#00b400'
BLUE = '#0000cc'
RED = '#ff0000'
TICKFONT = dict(family='Lato, Open Sans, sans-serif', size=19, color='#1a1a1a')

for nm, arrs in [('ames', [ames_days, ames_grb, ames_sma, ames_obs, ames_q1, ames_med, ames_q3, ames_lo, ames_hi]),
                 ('gre', [gre_days, gre_grb, gre_sma, gre_obs, gre_q1, gre_med, gre_q3, gre_lo, gre_hi]),
                 ('ott', [ott_days, ott_grb, ott_sma, ott_obs, ott_q1, ott_med, ott_q3, ott_lo, ott_hi])]:
    lens = [len(a) for a in arrs]
    if len(set(lens)) != 1:
        raise ValueError(f'{nm} length mismatch: {lens}')

fig = go.Figure()

sites = [
    dict(ax='', days=ames_days, grb=ames_grb, sma=ames_sma, obs=ames_obs, q1=ames_q1, med=ames_med,
         q3=ames_q3, lo=ames_lo, hi=ames_hi, bw=0.6, blue_on_top=False, lw_red=4, lw_blue=4),
    dict(ax='2', days=gre_days, grb=gre_grb, sma=gre_sma, obs=gre_obs, q1=gre_q1, med=gre_med,
         q3=gre_q3, lo=gre_lo, hi=gre_hi, bw=0.8, blue_on_top=False, lw_red=4, lw_blue=4),
    dict(ax='3', days=ott_days, grb=ott_grb, sma=ott_sma, obs=ott_obs, q1=ott_q1, med=ott_med,
         q3=ott_q3, lo=ott_lo, hi=ott_hi, bw=0.55, blue_on_top=True, lw_red=3.5, lw_blue=5),
]

for s in sites:
    xa, ya = 'x' + s['ax'], 'y' + s['ax']
    fig.add_trace(go.Box(x=s['days'], q1=s['q1'], median=s['med'], q3=s['q3'],
                         lowerfence=s['lo'], upperfence=s['hi'], width=s['bw'],
                         whiskerwidth=0.6, fillcolor=GREEN,
                         line=dict(color='black', width=1.3), boxpoints=False,
                         showlegend=False, hoverinfo='skip', xaxis=xa, yaxis=ya))
    fig.add_trace(go.Scatter(x=s['days'], y=s['obs'], mode='lines',
                             line=dict(color='black', width=3.5, dash='10px,6px'),
                             showlegend=False, xaxis=xa, yaxis=ya))
    red = go.Scatter(x=s['days'], y=s['grb'], mode='lines', line=dict(color=RED, width=s['lw_red']),
                     showlegend=False, xaxis=xa, yaxis=ya)
    blue = go.Scatter(x=s['days'], y=s['sma'], mode='lines', line=dict(color=BLUE, width=s['lw_blue']),
                      showlegend=False, xaxis=xa, yaxis=ya)
    if s['blue_on_top']:
        fig.add_trace(red); fig.add_trace(blue)
    else:
        fig.add_trace(blue); fig.add_trace(red)


def px(x):
    return x / W


def py(y):
    return 1 - y / H


xdom = [px(101), px(1316)]
panels = [
    ('', [1.0, 170.2], [0, 8], (20, 310)),
    ('2', [1.03, 100.08], [0, 14], (431, 721)),
    ('3', [0.95, 140.1], [0, 8], (841, 1131)),
]
layout = dict(width=W, height=H, margin=dict(l=0, r=0, t=0, b=0, pad=0, autoexpand=False),
              plot_bgcolor='white', paper_bgcolor='white', showlegend=False, template='none')
for ax, xr, yr, (top, bot) in panels:
    common = dict(showline=True, linecolor='black', linewidth=2.5, mirror=True,
                  ticks='outside', tickcolor='black', tickwidth=2.5, ticklen=16,
                  showgrid=False, zeroline=False, tickfont=TICKFONT, automargin=False)
    layout['xaxis' + ax] = dict(common, domain=xdom, range=xr, anchor='y' + ax,
                                tick0=0, dtick=10, ticklabelstandoff=4,
                                minor=dict(ticks='outside', dtick=5, ticklen=8, tickwidth=2.5,
                                           tickcolor='black', showgrid=False))
    layout['yaxis' + ax] = dict(common, domain=[py(bot), py(top)], range=yr, anchor='x' + ax,
                                tick0=0, dtick=2, ticklabelstandoff=4,
                                minor=dict(ticks='outside', dtick=1, ticklen=8, tickwidth=2.5,
                                           tickcolor='black', showgrid=False))
fig.update_layout(**layout)

ann = []
TITLEF = dict(family='Lato, Open Sans, sans-serif', size=23, color='black', weight='bold')
for txt, yc in [('ETa (mm/day)', 170), ('ETa (mm/day)', 575), ('ETa(mm/day)', 985)]:
    ann.append(dict(text=txt, x=px(22), y=py(yc), xref='paper', yref='paper', showarrow=False,
                    textangle=-90, font=TITLEF, xanchor='center', yanchor='middle'))
ann.append(dict(text='Days After Plant Sowing', x=px(753), y=py(1204), xref='paper', yref='paper',
                showarrow=False, xanchor='center', yanchor='middle',
                font=dict(family='Liberation Sans, Arial, sans-serif', size=28, color='black', weight='bold')))
SITEF = dict(family='Liberation Sans, Arial, sans-serif', size=24, color='black', weight='bold')
for txt, xr_, yc in [('Ames', 1309, 47), ('Greeley', 1308, 458), ('Ottawa', 1312, 866)]:
    ann.append(dict(text=txt, x=px(xr_), y=py(yc), xref='paper', yref='paper', showarrow=False,
                    xanchor='right', yanchor='middle', font=SITEF))

LEGF = dict(family='Lato, Open Sans, sans-serif', size=24, color='#111')
for txt, xl, yc in [('25%~75%', 186, 47), ('10%~90%', 186, 84),
                    ('Observed', 386, 46), ('SMA', 386, 83), ('GRB', 386, 120)]:
    ann.append(dict(text=txt, x=px(xl), y=py(yc), xref='paper', yref='paper', showarrow=False,
                    xanchor='left', yanchor='middle', font=LEGF))

shapes = []
def rect(x0, y0, x1, y1, **kw):
    shapes.append(dict(type='rect', xref='paper', yref='paper', x0=px(x0), x1=px(x1),
                       y0=py(y1), y1=py(y0), **kw))
def line(x0, y0, x1, y1, **kw):
    shapes.append(dict(type='line', xref='paper', yref='paper', x0=px(x0), x1=px(x1),
                       y0=py(y0), y1=py(y1), **kw))

rect(110, 25, 300, 141, line=dict(color='black', width=1.5), fillcolor='white', layer='above')
rect(310, 25, 498, 140, line=dict(color='black', width=1.5), fillcolor='white', layer='above')
rect(115, 32, 181, 63, line=dict(color='black', width=1.3), fillcolor=GREEN, layer='above')
line(147, 70, 147, 98, line=dict(color='black', width=1.5), layer='above')
line(138, 70, 156, 70, line=dict(color='black', width=1.5), layer='above')
line(138, 98, 156, 98, line=dict(color='black', width=1.5), layer='above')
line(313, 46, 380, 46, line=dict(color='black', width=3.5, dash='10px,6px'), layer='above')
line(313, 83, 382, 83, line=dict(color=BLUE, width=4), layer='above')
line(313, 120, 382, 120, line=dict(color=RED, width=4), layer='above')

fig.update_layout(annotations=ann, shapes=shapes)
fig.write_html('out.html')
